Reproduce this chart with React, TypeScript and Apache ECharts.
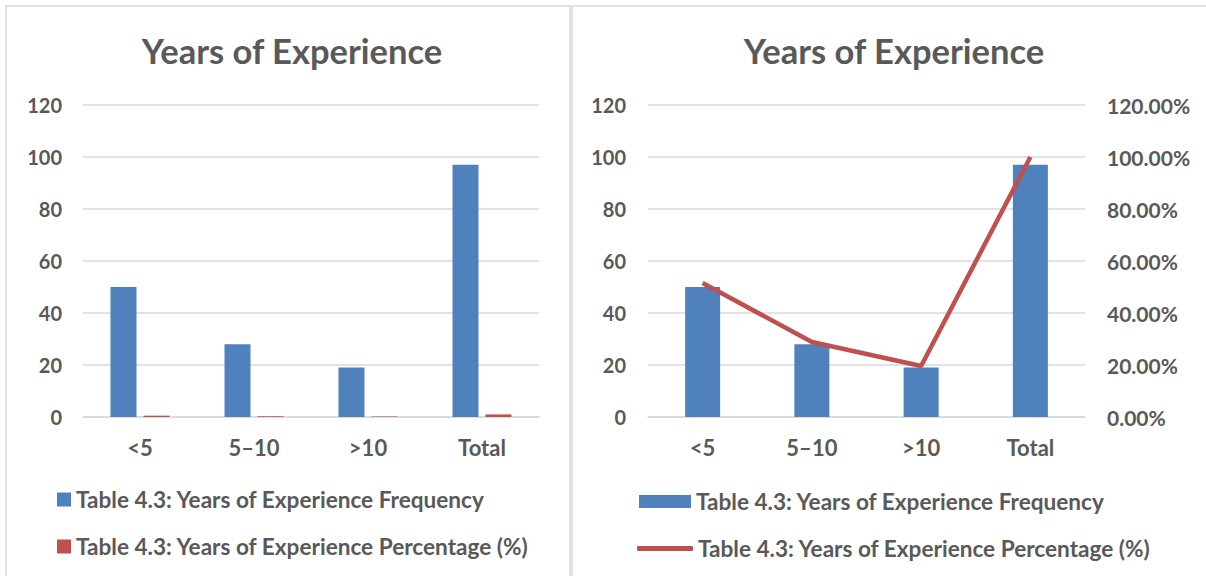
import React, { useEffect, useRef } from "react";
import * as echarts from "echarts";

const categories = ["<5", "5–10", ">10", "Total"];
const frequency = [50, 28, 19, 97];
const percentage = [0.5155, 0.2887, 0.1959, 1.0];
const leftTicks = [0, 20, 40, 60, 80, 100, 120];
const titleText = "Years of Experience";
const freqName = "Table 4.3: Years of Experience Frequency";
const pctName = "Table 4.3: Years of Experience Percentage (%)";

const FONT = "Lato";
const TXT = "#595959";
const GRID = "#d9d9d9";
const BLUE = "#4F81BD";
const RED = "#C0504D";

export default function App() {
  const ref = useRef<HTMLDivElement>(null);
  useEffect(() => {
    document.body.style.margin = "0";
    if (!ref.current) return;
    const chart = echarts.init(ref.current, null, { renderer: "svg" });
    const axisLabel = { color: TXT, fontFamily: FONT, fontWeight: "bold", fontSize: 20 };
    const yCommon = {
      type: "value",
      min: 0,
      max: leftTicks[leftTicks.length - 1],
      interval: 20,
      axisLine: { show: false },
      axisTick: { show: false },
      splitLine: { lineStyle: { color: GRID, width: 1.5 } },
    };
    const xCommon = {
      type: "category",
      data: categories,
      axisLine: { lineStyle: { color: GRID, width: 1.5 } },
      axisTick: { show: false },
      axisLabel: { ...axisLabel, fontSize: 22, margin: 19 },
    };
    const legendText = { color: TXT, fontFamily: FONT, fontWeight: "bold", fontSize: 22.6 };
    const titleStyle = { color: TXT, fontFamily: FONT, fontWeight: "bold", fontSize: 34.5 };
    chart.setOption({
      animation: false,
      backgroundColor: "#ffffff",
      title: [
        { text: titleText, left: 287, top: 28, textAlign: "center", textStyle: titleStyle },
        { text: titleText, left: 889, top: 28, textAlign: "center", textStyle: titleStyle },
      ],
      grid: [
        { left: 83, top: 105, width: 456, height: 312 },
        { left: 648, top: 105, width: 437, height: 312 },
      ],
      xAxis: [
        { ...xCommon, gridIndex: 0 },
        { ...xCommon, gridIndex: 1 },
      ],
      yAxis: [
        { ...yCommon, gridIndex: 0, axisLabel: { ...axisLabel, margin: 21 } },
        { ...yCommon, gridIndex: 1, axisLabel: { ...axisLabel, margin: 22 } },
        {
          type: "value",
          gridIndex: 1,
          position: "right",
          min: 0,
          max: 1.2,
          interval: 0.2,
          axisLine: { show: false },
          axisTick: { show: false },
          splitLine: { show: false },
          axisLabel: { ...axisLabel, fontSize: 21, margin: 22, formatter: (v: number) => (v * 100).toFixed(2) + "%" },
        },
      ],
      legend: [
        { left: 57, top: 488, padding: 0, itemWidth: 14, itemHeight: 14, textStyle: legendText, data: [{ name: freqName, icon: "rect", itemStyle: { color: BLUE } }] },
        { left: 57, top: 535, padding: 0, itemWidth: 14, itemHeight: 14, textStyle: legendText, data: [{ name: pctName, icon: "rect", itemStyle: { color: RED } }] },
        { left: 639, top: 490, padding: 0, itemWidth: 52, itemHeight: 13, textStyle: legendText, data: [{ name: freqName, icon: "rect", itemStyle: { color: BLUE } }] },
        { left: 637, top: 537, padding: 0, itemWidth: 56, itemHeight: 5, textStyle: legendText, data: [{ name: pctName, icon: "roundRect", itemStyle: { color: RED } }] },
      ],
      series: [
        { name: freqName, type: "bar", xAxisIndex: 0, yAxisIndex: 0, data: frequency, barWidth: 26, barGap: "27%", itemStyle: { color: BLUE } },
        { name: pctName, type: "bar", xAxisIndex: 0, yAxisIndex: 0, data: percentage, barWidth: 26, barGap: "27%", itemStyle: { color: RED } },
        { name: freqName, type: "bar", xAxisIndex: 1, yAxisIndex: 1, data: frequency, barWidth: 35, itemStyle: { color: BLUE } },
        { name: pctName, type: "line", xAxisIndex: 1, yAxisIndex: 2, data: percentage, symbol: "none", lineStyle: { color: RED, width: 4.5 }, itemStyle: { color: RED } },
      ],
      graphic: [
        { type: "rect", shape: { x: 6, y: 6, width: 564, height: 600 }, style: { fill: "none", stroke: GRID, lineWidth: 1.5 }, silent: true },
        { type: "rect", shape: { x: 572, y: 6, width: 640, height: 600 }, style: { fill: "none", stroke: GRID, lineWidth: 1.5 }, silent: true },
      ],
    });
    return () => chart.dispose();
  }, []);
  return <div ref={ref} style={{ width: 1206, height: 576 }} />;
}
